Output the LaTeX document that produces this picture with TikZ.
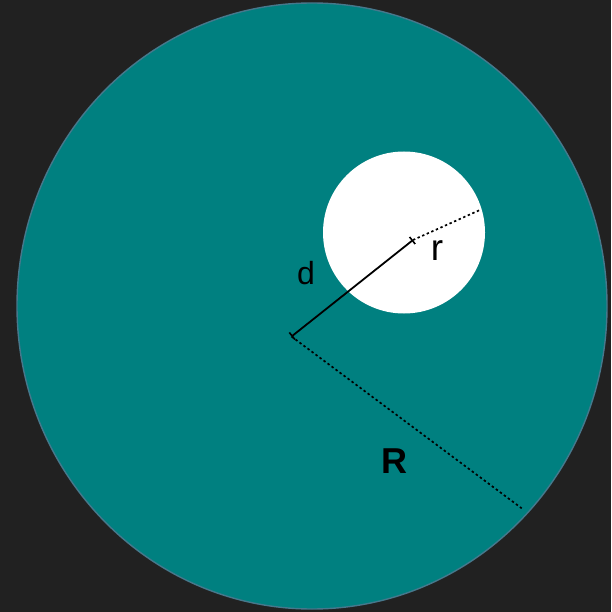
\documentclass[tikz,border=0pt]{standalone}
\usepackage{fontspec}
\setmainfont{Liberation Sans}
\usetikzlibrary{arrows.meta}
\definecolor{bgdark}{RGB}{33,33,33}
\definecolor{tealfill}{RGB}{0,128,128}
\definecolor{rimcol}{RGB}{70,120,140}
\tikzset{
  dimline/.style={line width=1.8pt, black},
  dotline/.style={line width=1.7pt, black, dash pattern=on 2.4pt off 2.6pt},
  lbl/.style={inner sep=0pt, text=black},
}
\begin{document}
\begin{tikzpicture}[x=1pt,y=-1pt]
  \fill[bgdark] (0,0) rectangle (611,612);
  \useasboundingbox (0,0) rectangle (611,612);
  % big disc
  \fill[tealfill, draw=rimcol, line width=1.4pt] (312,306) ellipse [x radius=295, y radius=303];
  % hole
  \fill[white] (404,232.5) circle (81);
  % points
  \coordinate (O) at (291.5,336.5);
  \coordinate (C) at (413,240);
  \coordinate (Rend) at (521.7,508.3);
  \coordinate (rend) at (481,209.5);
  % radius R (dotted)
  \draw[dotline] (O) -- (Rend);
  % radius r (dotted)
  \draw[dotline] (C) -- (rend);
  % distance d
  \draw[dimline, {Bar[width=9pt,line width=1.6pt]}-{Bar[width=9pt,line width=1.6pt]}] (O) -- (C);
  % labels
  \node[lbl, font=\fontsize{32}{32}\selectfont] (dl) at (306,273) {d};
  \node[lbl, font=\fontsize{37}{37}\selectfont] (rl) at (437,250.5) {r};
  \node[lbl, font=\fontsize{36}{36}\selectfont\bfseries] (Rl) at (394.5,461.5) {R};
\end{tikzpicture}
\end{document}
